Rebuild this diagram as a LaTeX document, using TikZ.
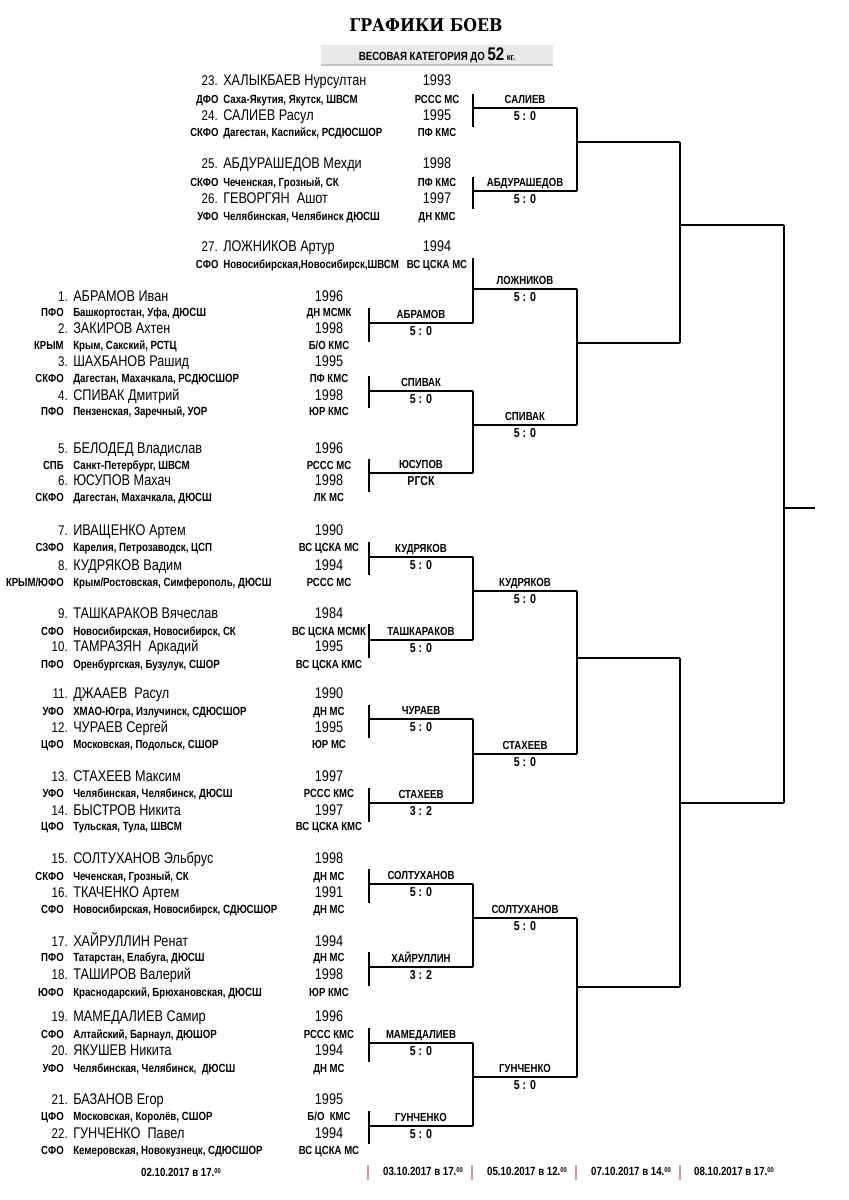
\documentclass[tikz,border=0pt]{standalone}
\usepackage{fontspec}
\setmainfont{Liberation Sans}[FakeStretch=0.82]
\newfontfamily\titlefont{DejaVu Serif}[FakeStretch=0.9]
\usetikzlibrary{positioning,calc}
\definecolor{datepink}{RGB}{205,150,155}
\definecolor{bannergray}{RGB}{233,233,233}

% name line of one fighter: id, x, year centre, y, number, name, year
\newcommand{\athlete}[7]{%
 \node[num] (num#1) at (#2-5,#4) {#5.};
 \node[fname] (name#1) at (#2,#4) {#6};
 \node[year] (year#1) at (#3,#4) {#7};}
% second line: id, x, club centre, y, district, region, club
\newcommand{\home}[7]{%
 \node[fd] (fd#1) at (#2-9,#4) {#5};
 \node[region] (reg#1) at (#2,#4) {#6};
 \node[club] (club#1) at (#3,#4) {#7};}
% first bout with its tick: id, x, top, line, bottom, winner, score
\newcommand{\bout}[7]{%
 \coordinate (#1t) at (#2,#3); \coordinate (#1b) at (#2,#5);
 \coordinate (#1l) at (#2,#4); \coordinate (#1r) at (#2+104,#4);
 \draw[wire] (#1t) -- (#1b);
 \draw[wire] (#1l) -- (#1r);
 \node[winner] (#1w) at (#2+52,#4-8.5) {#6};
 \node[score] (#1s) at (#2+52,#4+8.5) {#7};}
% later bout: id, x, line, winner, score
\newcommand{\later}[5]{%
 \coordinate (#1l) at (#2,#3); \coordinate (#1r) at (#2+104,#3);
 \draw[wire] (#1l) -- (#1r);
 \node[winner] (#1w) at (#2+52,#3-8.5) {#4};
 \node[score] (#1s) at (#2+52,#3+8.5) {#5};}

\tikzset{
 wire/.style={line width=0.9pt},
 num/.style={anchor=mid east,inner sep=0pt,font=\fontsize{10}{12}\selectfont},
 fname/.style={anchor=mid west,inner sep=0pt,font=\fontsize{11}{12}\selectfont},
 year/.style={anchor=mid,inner sep=0pt,font=\fontsize{11}{12}\selectfont},
 fd/.style={anchor=mid east,inner sep=0pt,font=\bfseries\fontsize{8.3}{9}\selectfont},
 region/.style={anchor=mid west,inner sep=0pt,font=\bfseries\fontsize{8.4}{9}\selectfont},
 club/.style={anchor=mid,inner sep=0pt,font=\bfseries\fontsize{8.3}{9}\selectfont},
 winner/.style={anchor=mid,inner sep=0pt,font=\bfseries\fontsize{8.3}{9}\selectfont},
 score/.style={anchor=mid,inner sep=0pt,font=\bfseries\fontsize{9.2}{10}\selectfont},
 date/.style={anchor=mid,inner sep=0pt,font=\bfseries\fontsize{8.4}{9}\selectfont},
 datebar/.style={datepink,line width=1.6pt}
}
\newcommand{\oo}{\raisebox{0.5ex}{\fontsize{5}{5}\selectfont 00}}

\begin{document}
\begin{tikzpicture}[x=0.025cm,y=-0.025cm]
 \useasboundingbox (0,0) rectangle (848,1200);
 \fill[white] (0,0) rectangle (848,1200);
 \clip (0,0) rectangle (848,1200);

 \node[font=\titlefont\bfseries\fontsize{12.5}{14}\selectfont] (title) at (426,25) {ГРАФИКИ БОЕВ};
 \node[fill=bannergray,minimum width=5.78cm,minimum height=0.48cm,inner sep=0pt,
   font=\bfseries\fontsize{8.4}{10}\selectfont] (cat) at (437,55)
   {ВЕСОВАЯ КАТЕГОРИЯ ДО {\fontsize{13}{13}\selectfont 52} {\fontsize{6.5}{8}\selectfont кг.}};
 \draw[gray!45,line width=1.2pt] (cat.south west) -- (cat.south east);

 % upper group
 \begin{scope}[fd/.append style={xshift=0.12cm}]
 \athlete{23}{223}{437}{82}{23}{ХАЛЫКБАЕВ Нурсултан}{1993}
 \home{23}{223}{437}{100}{ДФО}{Саха-Якутия, Якутск, ШВСМ}{РССС МС}
 \athlete{24}{223}{437}{117}{24}{САЛИЕВ Расул}{1995}
 \home{24}{223}{437}{133}{СКФО}{Дагестан, Каспийск, РСДЮСШОР}{ПФ КМС}
 \athlete{25}{223}{437}{165}{25}{АБДУРАШЕДОВ Мехди}{1998}
 \home{25}{223}{437}{183}{СКФО}{Чеченская, Грозный, СК}{ПФ КМС}
 \athlete{26}{223}{437}{200}{26}{ГЕВОРГЯН\ \ Ашот}{1997}
 \home{26}{223}{437}{217}{УФО}{Челябинская, Челябинск ДЮСШ}{ДН КМС}
 \athlete{27}{223}{437}{248}{27}{ЛОЖНИКОВ Артур}{1994}
 \home{27}{223}{437}{265}{СФО}{Новосибирская,Новосибирск,ШВСМ}{ВС ЦСКА МС}
 \end{scope}

 % main list
 \athlete{1}{73}{329}{298}{1}{АБРАМОВ Иван}{1996}
 \home{1}{73}{329}{313}{ПФО}{Башкортостан, Уфа, ДЮСШ}{ДН МСМК}
 \athlete{2}{73}{329}{330}{2}{ЗАКИРОВ Ахтен}{1998}
 \home{2}{73}{329}{346}{КРЫМ}{Крым, Сакский, РСТЦ}{Б/О КМС}
 \athlete{3}{73}{329}{363}{3}{ШАХБАНОВ Рашид}{1995}
 \home{3}{73}{329}{379}{СКФО}{Дагестан, Махачкала, РСДЮСШОР}{ПФ КМС}
 \athlete{4}{73}{329}{397}{4}{СПИВАК Дмитрий}{1998}
 \home{4}{73}{329}{412}{ПФО}{Пензенская, Заречный, УОР}{ЮР КМС}
 \athlete{5}{73}{329}{450}{5}{БЕЛОДЕД Владислав}{1996}
 \home{5}{73}{329}{466}{СПБ}{Санкт-Петербург, ШВСМ}{РССС МС}
 \athlete{6}{73}{329}{482}{6}{ЮСУПОВ Махач}{1998}
 \home{6}{73}{329}{498}{СКФО}{Дагестан, Махачкала, ДЮСШ}{ЛК МС}
 \athlete{7}{73}{329}{532}{7}{ИВАЩЕНКО Артем}{1990}
 \home{7}{73}{329}{548}{СЗФО}{Карелия, Петрозаводск, ЦСП}{ВС ЦСКА МС}
 \athlete{8}{73}{329}{567}{8}{КУДРЯКОВ Вадим}{1994}
 \home{8}{73}{329}{583}{КРЫМ/ЮФО}{Крым/Ростовская, Симферополь, ДЮСШ}{РССС МС}
 \athlete{9}{73}{329}{615}{9}{ТАШКАРАКОВ Вячеслав}{1984}
 \home{9}{73}{329}{632}{СФО}{Новосибирская, Новосибирск, СК}{ВС ЦСКА МСМК}
 \athlete{10}{73}{329}{648}{10}{ТАМРАЗЯН\ \ Аркадий}{1995}
 \home{10}{73}{329}{665}{ПФО}{Оренбургская, Бузулук, СШОР}{ВС ЦСКА КМС}
 \athlete{11}{73}{329}{695}{11}{ДЖААЕВ\ \ Расул}{1990}
 \home{11}{73}{329}{712}{УФО}{ХМАО-Югра, Излучинск, СДЮСШОР}{ДН МС}
 \athlete{12}{73}{329}{729}{12}{ЧУРАЕВ Сергей}{1995}
 \home{12}{73}{329}{745}{ЦФО}{Московская, Подольск, СШОР}{ЮР МС}
 \athlete{13}{73}{329}{778}{13}{СТАХЕЕВ Максим}{1997}
 \home{13}{73}{329}{794}{УФО}{Челябинская, Челябинск, ДЮСШ}{РССС КМС}
 \athlete{14}{73}{329}{812}{14}{БЫСТРОВ Никита}{1997}
 \home{14}{73}{329}{827}{ЦФО}{Тульская, Тула, ШВСМ}{ВС ЦСКА КМС}
 \athlete{15}{73}{329}{860}{15}{СОЛТУХАНОВ Эльбрус}{1998}
 \home{15}{73}{329}{877}{СКФО}{Чеченская, Грозный, СК}{ДН МС}
 \athlete{16}{73}{329}{894}{16}{ТКАЧЕНКО Артем}{1991}
 \home{16}{73}{329}{910}{СФО}{Новосибирская, Новосибирск, СДЮСШОР}{ДН МС}
 \athlete{17}{73}{329}{943}{17}{ХАЙРУЛЛИН Ренат}{1994}
 \home{17}{73}{329}{958}{ПФО}{Татарстан, Елабуга, ДЮСШ}{ДН МС}
 \athlete{18}{73}{329}{976}{18}{ТАШИРОВ Валерий}{1998}
 \home{18}{73}{329}{993}{ЮФО}{Краснодарский, Брюхановская, ДЮСШ}{ЮР КМС}
 \athlete{19}{73}{329}{1018}{19}{МАМЕДАЛИЕВ Самир}{1996}
 \home{19}{73}{329}{1035}{СФО}{Алтайский, Барнаул, ДЮШОР}{РССС КМС}
 \athlete{20}{73}{329}{1052}{20}{ЯКУШЕВ Никита}{1994}
 \home{20}{73}{329}{1069}{УФО}{Челябинская, Челябинск,\ \ ДЮСШ}{ДН МС}
 \athlete{21}{73}{329}{1101}{21}{БАЗАНОВ Егор}{1995}
 \home{21}{73}{329}{1117}{ЦФО}{Московская, Королёв, СШОР}{Б/О\ \ КМС}
 \athlete{22}{73}{329}{1135}{22}{ГУНЧЕНКО\ \ Павел}{1994}
 \home{22}{73}{329}{1151}{СФО}{Кемеровская, Новокузнецк, СДЮСШОР}{ВС ЦСКА МС}

 % first bouts
 \bout{s23}{473}{94}{108}{127}{САЛИЕВ}{5 : 0}
 \bout{s25}{473}{177}{191}{209}{АБДУРАШЕДОВ}{5 : 0}
 \bout{m1}{369}{308}{323}{342}{АБРАМОВ}{5 : 0}
 \bout{m3}{369}{376}{391}{408}{СПИВАК}{5 : 0}
 \bout{m5}{369}{459}{473}{492}{ЮСУПОВ}{РГСК}
 \bout{m7}{369}{542}{557}{575}{КУДРЯКОВ}{5 : 0}
 \bout{m9}{369}{624}{640}{658}{ТАШКАРАКОВ}{5 : 0}
 \bout{m11}{369}{705}{719}{738}{ЧУРАЕВ}{5 : 0}
 \bout{m13}{369}{788}{803}{822}{СТАХЕЕВ}{3 : 2}
 \bout{m15}{369}{869}{884}{903}{СОЛТУХАНОВ}{5 : 0}
 \bout{m17}{369}{952}{967}{986}{ХАЙРУЛЛИН}{3 : 2}
 \bout{m19}{369}{1028}{1043}{1062}{МАМЕДАЛИЕВ}{5 : 0}
 \bout{m21}{369}{1111}{1126}{1144}{ГУНЧЕНКО}{5 : 0}

 % second bouts
 \coordinate (c27) at (473,258);
 \later{loz}{473}{289}{ЛОЖНИКОВ}{5 : 0}
 \later{sp}{473}{425}{СПИВАК}{5 : 0}
 \later{q1}{473}{591}{КУДРЯКОВ}{5 : 0}
 \later{q2}{473}{754}{СТАХЕЕВ}{5 : 0}
 \later{q3}{473}{918}{СОЛТУХАНОВ}{5 : 0}
 \later{q4}{473}{1077}{ГУНЧЕНКО}{5 : 0}
 \draw[wire] (c27) -- (m1r);
 \draw[wire] (m3r) -- (m5r);
 \draw[wire] (m7r) -- (m9r);
 \draw[wire] (m11r) -- (m13r);
 \draw[wire] (m15r) -- (m17r);
 \draw[wire] (m19r) -- (m21r);

 % joins to the right
 \coordinate (j1) at (577,142); \coordinate (j1e) at (680,142);
 \coordinate (j2) at (577,343); \coordinate (j2e) at (680,343);
 \coordinate (j3) at (577,658); \coordinate (j3e) at (680,658);
 \coordinate (j4) at (577,987); \coordinate (j4e) at (680,987);
 \coordinate (k1) at (680,225); \coordinate (k1e) at (784,225);
 \coordinate (k2) at (680,803); \coordinate (k2e) at (784,803);
 \coordinate (fin) at (784,508); \coordinate (fine) at (815,508);
 \draw[wire] (s23r) -- (s25r);
 \draw[wire] (lozr) -- (spr);
 \draw[wire] (q1r) -- (q2r);
 \draw[wire] (q3r) -- (q4r);
 \draw[wire] (j1) -- (j1e);
 \draw[wire] (j2) -- (j2e);
 \draw[wire] (j3) -- (j3e);
 \draw[wire] (j4) -- (j4e);
 \draw[wire] (j1e) -- (j2e);
 \draw[wire] (j3e) -- (j4e);
 \draw[wire] (k1) -- (k1e);
 \draw[wire] (k2) -- (k2e);
 \draw[wire] (k1e) -- (k2e);
 \draw[wire] (fin) -- (fine);

 % dates
 \node[date] (d1) at (181,1173) {02.10.2017 в 17.\oo};
 \node[date] (d2) at (423,1172) {03.10.2017 в 17.\oo};
 \node[date] (d3) at (527,1172) {05.10.2017 в 12.\oo};
 \node[date] (d4) at (631,1172) {07.10.2017 в 14.\oo};
 \node[date] (d5) at (734,1172) {08.10.2017 в 17.\oo};
 \foreach \bx in {368,472,576,680}
  \draw[datebar] (\bx,1165) -- (\bx,1180);
\end{tikzpicture}
\end{document}
